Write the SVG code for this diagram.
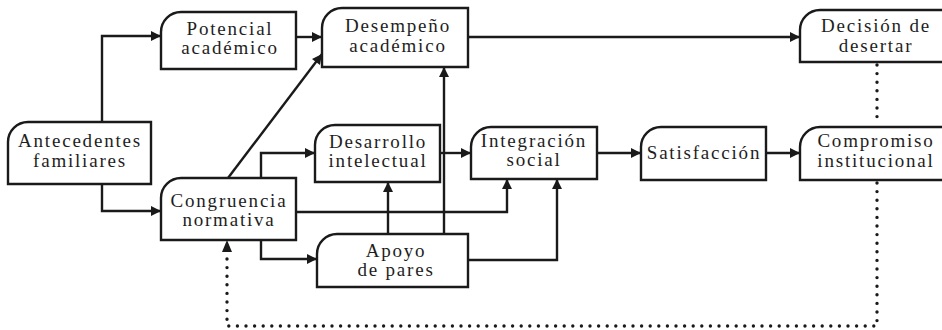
<svg xmlns="http://www.w3.org/2000/svg" width="942" height="330" viewBox="0 0 942 330">
<style>
.box{fill:#fff;stroke:#1a1a1a;stroke-width:2.4}
.t{font-family:"Liberation Serif",serif;font-size:19px;letter-spacing:1.8px;fill:#1e1e1e;text-anchor:middle}
.c{fill:none;stroke:#1a1a1a;stroke-width:2.4}
.d{fill:none;stroke:#1a1a1a;stroke-width:3.4;stroke-dasharray:0 8.6;stroke-linecap:round}
</style>
<defs>
<marker id="ah" viewBox="0 0 10 10" refX="10" refY="5" markerWidth="11" markerHeight="10" markerUnits="userSpaceOnUse" orient="auto">
<path d="M0,0 L10,5 L0,10 Z" fill="#1a1a1a"/>
</marker>
</defs>
<rect width="942" height="330" fill="#fff"/>
<g id="connectors">
<path class="c" d="M102,122 V36 H161" marker-end="url(#ah)"/>
<path class="c" d="M102,184 V211 H161" marker-end="url(#ah)"/>
<path class="c" d="M296,37 H322" marker-end="url(#ah)"/>
<path class="c" d="M228,178 L322,54" marker-end="url(#ah)"/>
<path class="c" d="M261,178 V153 H315" marker-end="url(#ah)"/>
<path class="c" d="M261,240 V259 H317" marker-end="url(#ah)"/>
<path class="c" d="M296,212 H507 V179" marker-end="url(#ah)"/>
<path class="c" d="M440,153 H471" marker-end="url(#ah)"/>
<path class="c" d="M388,234 V182" marker-end="url(#ah)"/>
<path class="c" d="M444,234 V67" marker-end="url(#ah)"/>
<path class="c" d="M468,260 H557 V179" marker-end="url(#ah)"/>
<path class="c" d="M597,153 H641" marker-end="url(#ah)"/>
<path class="c" d="M766,153 H800" marker-end="url(#ah)"/>
<path class="c" d="M468,37 H800" marker-end="url(#ah)"/>
<path class="d" d="M877,65 V125"/>
<path class="d" d="M877,183 V326 H227 V252"/>
<path d="M222,252 L227,240 L232,252 Z" fill="#1a1a1a"/>
</g>
<g id="antecedentes">
<path class="box" d="M8,142 A20,20 0 0 1 28,122 H151 V184 H8 Z"/>
<text class="t" x="80" y="147">Antecedentes</text>
<text class="t" x="80" y="167">familiares</text>
</g>
<g id="potencial">
<path class="box" d="M161,32 A20,20 0 0 1 181,12 H296 V69 H161 Z"/>
<text class="t" x="230" y="35">Potencial</text>
<text class="t" x="230" y="54">académico</text>
</g>
<g id="congruencia">
<path class="box" d="M161,198 A20,20 0 0 1 181,178 H296 V240 H161 Z"/>
<text class="t" x="229" y="207">Congruencia</text>
<text class="t" x="229" y="226">normativa</text>
</g>
<g id="desempeno">
<path class="box" d="M322,28 A20,20 0 0 1 342,8 H468 V67 H322 Z"/>
<text class="t" x="398" y="32">Desempeño</text>
<text class="t" x="398" y="52">académico</text>
</g>
<g id="desarrollo">
<path class="box" d="M315,145 A20,20 0 0 1 335,125 H440 V182 H315 Z"/>
<text class="t" x="378" y="148">Desarrollo</text>
<text class="t" x="378" y="167">intelectual</text>
</g>
<g id="apoyo">
<path class="box" d="M317,254 A20,20 0 0 1 337,234 H468 V287 H317 Z"/>
<text class="t" x="396" y="257">Apoyo</text>
<text class="t" x="396" y="276">de pares</text>
</g>
<g id="integracion">
<path class="box" d="M471,147 A20,20 0 0 1 491,127 H597 V179 H471 Z"/>
<text class="t" x="534" y="147">Integración</text>
<text class="t" x="534" y="166">social</text>
</g>
<g id="satisfaccion">
<path class="box" d="M641,147 A20,20 0 0 1 661,127 H766 V180 H641 Z"/>
<text class="t" x="704" y="159">Satisfacción</text>
</g>
<g id="decision">
<path class="box" d="M800,30 A20,20 0 0 1 820,10 H950 V62 H800 Z"/>
<text class="t" x="876" y="32">Decisión de</text>
<text class="t" x="876" y="52">desertar</text>
</g>
<g id="compromiso">
<path class="box" d="M800,147 A20,20 0 0 1 820,127 H950 V180 H800 Z"/>
<text class="t" x="876" y="147">Compromiso</text>
<text class="t" x="876" y="167">institucional</text>
</g>
</svg>
